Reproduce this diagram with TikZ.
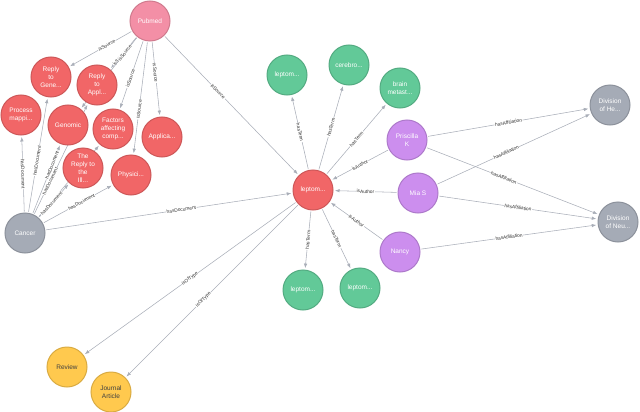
\documentclass[tikz,border=0pt]{standalone}
\usepackage{fontspec}
\setmainfont{Liberation Sans}
\usetikzlibrary{arrows.meta,backgrounds}

\definecolor{docred}{HTML}{F16667}
\definecolor{srcpink}{HTML}{F38FA6}
\definecolor{termgreen}{HTML}{62C998}
\definecolor{authpurple}{HTML}{CC8EEE}
\definecolor{orggray}{HTML}{A5ABB6}
\definecolor{typeyellow}{HTML}{FFC94E}
\definecolor{edgegray}{HTML}{A9AEB8}

\tikzset{
	ent/.style={circle, minimum size=40pt, inner sep=0pt, align=center, line width=1pt,
		text=white, font=\fontsize{6.5}{7.8}\selectfont},
	docnode/.style={ent, fill=docred, draw=docred!85!black},
	srcnode/.style={ent, fill=srcpink, draw=srcpink!85!black},
	termnode/.style={ent, fill=termgreen, draw=termgreen!85!black},
	authnode/.style={ent, fill=authpurple, draw=authpurple!85!black},
	orgnode/.style={ent, fill=orggray, draw=orggray!85!black},
	typenode/.style={ent, fill=typeyellow, draw=typeyellow!85!black, text=black!75},
	rel/.style={-{Latex[length=4.5pt,width=3.5pt]}, draw=edgegray, line width=0.55pt,
		shorten >=1.5pt, shorten <=1pt},
	rlab/.style={sloped, fill=white, inner sep=0.6pt, text=black!80,
		font=\fontsize{4.8}{5}\selectfont, pos=0.5}
}

\begin{document}
\begin{tikzpicture}[x=1pt,y=-1pt]
	\useasboundingbox (0,0) rectangle (640,412);

	% source and documents
	\node [srcnode] (pubmed) at (150,21) {Pubmed};
	\node [docnode] (replygene) at (51,77) {Reply\\to\\Gene...};
	\node [docnode] (replyappl) at (97,85) {Reply\\to\\Appl...};
	\node [docnode] (process) at (21,115) {Process\\mappi...};
	\node [docnode] (genomic) at (68,125) {Genomic};
	\node [docnode] (factors) at (113,129) {Factors\\affecting\\comp...};
	\node [docnode] (applica) at (162,137) {Applica...};
	\node [docnode] (replyill) at (83,168) {The\\Reply to\\the\\Ill...};
	\node [docnode] (physici) at (131,175) {Physici...};
	\node [orgnode] (cancer) at (25,233) {Cancer};

	% central document
	\node [docnode] (lepto) at (313,190) {leptom...};

	% terms
	\node [termnode] (termA) at (287,75) {leptom...};
	\node [termnode] (termB) at (349,65) {cerebro...};
	\node [termnode] (termC) at (400,88) {brain\\metast...};
	\node [termnode] (termD) at (303,290) {leptom...};
	\node [termnode] (termE) at (360,288) {leptom...};

	% authors and affiliations
	\node [authnode] (priscilla) at (407,140) {Priscilla\\K};
	\node [authnode] (mia) at (418,193) {Mia S};
	\node [authnode] (nancy) at (400,252) {Nancy};
	\node [orgnode] (divhe) at (610,105) {Division\\of He...};
	\node [orgnode] (divneu) at (618,222) {Division\\of Neu...};

	% types
	\node [typenode] (review) at (67,367) {Review};
	\node [typenode] (journal) at (111,392) {Journal\\Article};

	\begin{pgfonlayer}{background}
	% isSource
	\draw [rel] (pubmed) -- node [rlab,pos=0.4] {isSource} (replygene);
	\draw [rel] (pubmed) -- node [rlab,pos=0.64] {isSource} (replyappl);
	\draw [rel] (pubmed) -- node [rlab,pos=0.22] {isSource} (genomic);
	\draw [rel] (pubmed) -- node [rlab,pos=0.55] {isSource} (factors);
	\draw [rel] (pubmed) -- node [rlab,pos=0.6] {isSource} (physici);
	\draw [rel] (pubmed) -- node [rlab,pos=0.42] {isSource} (applica);
	\draw [rel] (pubmed) -- node [rlab,pos=0.4] {isSource} (lepto);

	% hasDocument
	\draw [rel] (cancer) -- node [rlab] {hasDocument} (process);
	\draw [rel] (cancer) -- node [rlab,pos=0.45] {hasDocument} (replygene);
	\draw [rel] (cancer) -- node [rlab,pos=0.7] {hasDocument} (genomic);
	\draw [rel] (cancer) -- node [rlab,pos=0.3] {hasDocument} (replyappl);
	\draw [rel] (cancer) -- node [rlab,pos=0.64] {hasDocument} (factors); % behind replyill
	\draw [rel] (cancer) -- node [rlab,pos=0.42] {hasDocument} (replyill);
	\draw [rel] (cancer) -- node [rlab,pos=0.55] {hasDocument} (physici);
	\draw [rel] (cancer) -- node [rlab,pos=0.55] {hasDocument} (lepto);

	% hasTerm
	\foreach \t in {termA,termB,termC,termD,termE}
		\draw [rel] (lepto) -- node [rlab] {hasTerm} (\t);

	% isAuthor
	\foreach \a in {priscilla,mia,nancy}
		\draw [rel] (\a) -- node [rlab] {isAuthor} (lepto);

	% hasAffiliation
	\draw [rel] (priscilla) -- node [rlab] {hasAffiliation} (divhe);
	\draw [rel] (priscilla) -- node [rlab,pos=0.45] {hasAffiliation} (divneu);
	\draw [rel] (mia) -- node [rlab,pos=0.45] {hasAffiliation} (divhe);
	\draw [rel] (mia) -- node [rlab] {hasAffiliation} (divneu);
	\draw [rel] (nancy) -- node [rlab] {hasAffiliation} (divneu);

	% isOfType
	\draw [rel] (lepto) -- node [rlab] {isOfType} (review);
	\draw [rel] (lepto) -- node [rlab,pos=0.55] {isOfType} (journal);
	\end{pgfonlayer}
\end{tikzpicture}
\end{document}
